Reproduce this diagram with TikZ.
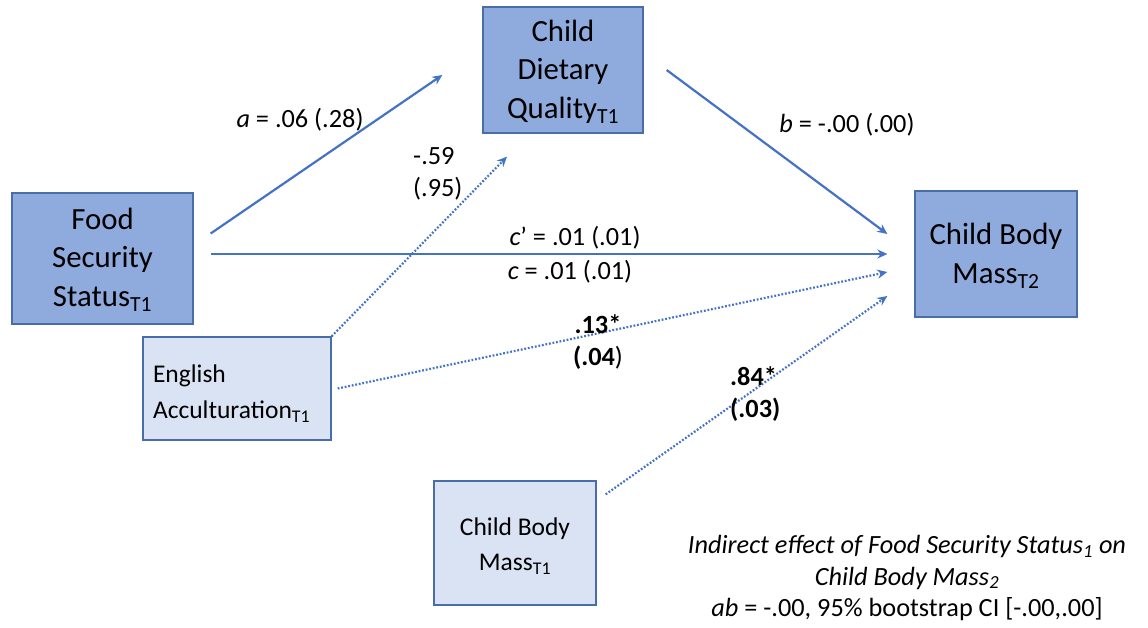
\documentclass[tikz,border=0pt]{standalone}
\usepackage{fontspec}
\setmainfont{Carlito}
\usetikzlibrary{arrows.meta,calc}
\definecolor{darkfill}{HTML}{8FAADC}
\definecolor{lightfill}{HTML}{DAE3F3}
\definecolor{boxedge}{HTML}{4A6DAA}
\definecolor{arrowc}{HTML}{4472C4}
\newcommand{\lsub}[1]{\textsubscript{#1}}
\tikzset{
  mainbox/.style={draw=boxedge, line width=1.3pt, fill=darkfill, align=center, inner sep=0pt,
    font=\fontsize{30.8}{38.5}\selectfont},
  sidebox/.style={draw=boxedge, line width=1.3pt, fill=lightfill, inner sep=0pt,
    font=\fontsize{25.5}{35.5}\selectfont},
  lbl/.style={inner sep=0pt, font=\fontsize{26.3}{31.5}\selectfont},
  solidarr/.style={draw=arrowc, line width=2.2pt, -{Stealth[length=10pt,width=9pt]}},
  dotarr/.style={draw=arrowc, line width=2.2pt, dash pattern=on 1.8pt off 1.8pt,
    -{Stealth[length=10pt,width=9pt]}}
}
\begin{document}
\begin{tikzpicture}[x=1pt,y=-1pt]
\useasboundingbox (0,0) rectangle (1148,627);

\node[mainbox, minimum width=181, minimum height=131] (fss) at (102.5,258.5) {\rule{0pt}{24pt}Food\\Security\\Status\lsub{T1}};
\node[mainbox, minimum width=160, minimum height=126] (cdq) at (563,70) {\rule{0pt}{25pt}Child\\Dietary\\Quality\lsub{T1}};
\node[mainbox, minimum width=162, minimum height=126] (cbm2) at (996,254) {\rule{0pt}{25pt}Child Body\\Mass\lsub{T2}};
\node[sidebox, minimum width=188, minimum height=103, text width=168, align=left] (eng) at (237,388.5) {\rule{0pt}{28pt}English\\Acculturation\lsub{T1}};
\node[sidebox, minimum width=162, minimum height=124, align=center] (cbm1) at (515,543) {\rule{0pt}{24pt}Child Body\\Mass\lsub{T1}};

\draw[solidarr] ($(fss.east)+(17,-25)$) -- ($(cdq.west)+(-40,5)$);
\draw[solidarr] ($(cdq.east)+(23,0)$) -- ($(cbm2.west)+(-27,-20)$);
\draw[solidarr] ($(fss.east)+(17,-4.5)$) -- ($(cbm2.west)+(-27,0)$);
\draw[dotarr] (eng.north east) -- ($(cdq.south)+(-56,23)$);
\draw[dotarr] ($(eng.east)+(6,0)$) -- ($(cbm2.west)+(-27,18)$);
\draw[dotarr] ($(cbm1.north east)+(9,14)$) -- ($(cbm2.west)+(-27,42)$);

\node[lbl] (la) at (300,120) {\textit{a} = .06 (.28)};
\node[lbl, anchor=west, align=left] (l59) at (413,174) {-.59\\(.95)};
\node[lbl] (lb) at (847,125) {\textit{b} = -.00 (.00)};
\node[lbl] (lcp) at (575,238) {\textit{c}’ = .01 (.01)};
\node[lbl] (lc) at (570,272) {\textit{c} = .01 (.01)};
\node[lbl, align=center] (l13) at (598,342) {\textbf{.13*}\\\textbf{(.04})};
\node[lbl, anchor=west, align=left] (l84) at (730,394) {\textbf{.84*}\\\textbf{(.03)}};
\node[lbl, align=center] (note) at (907,578) {\textit{Indirect effect of Food Security Status\textsubscript{1} on}\\\textit{Child Body Mass\textsubscript{2}}\\\textit{ab} = -.00, 95\% bootstrap CI [-.00,.00]};
\end{tikzpicture}
\end{document}
